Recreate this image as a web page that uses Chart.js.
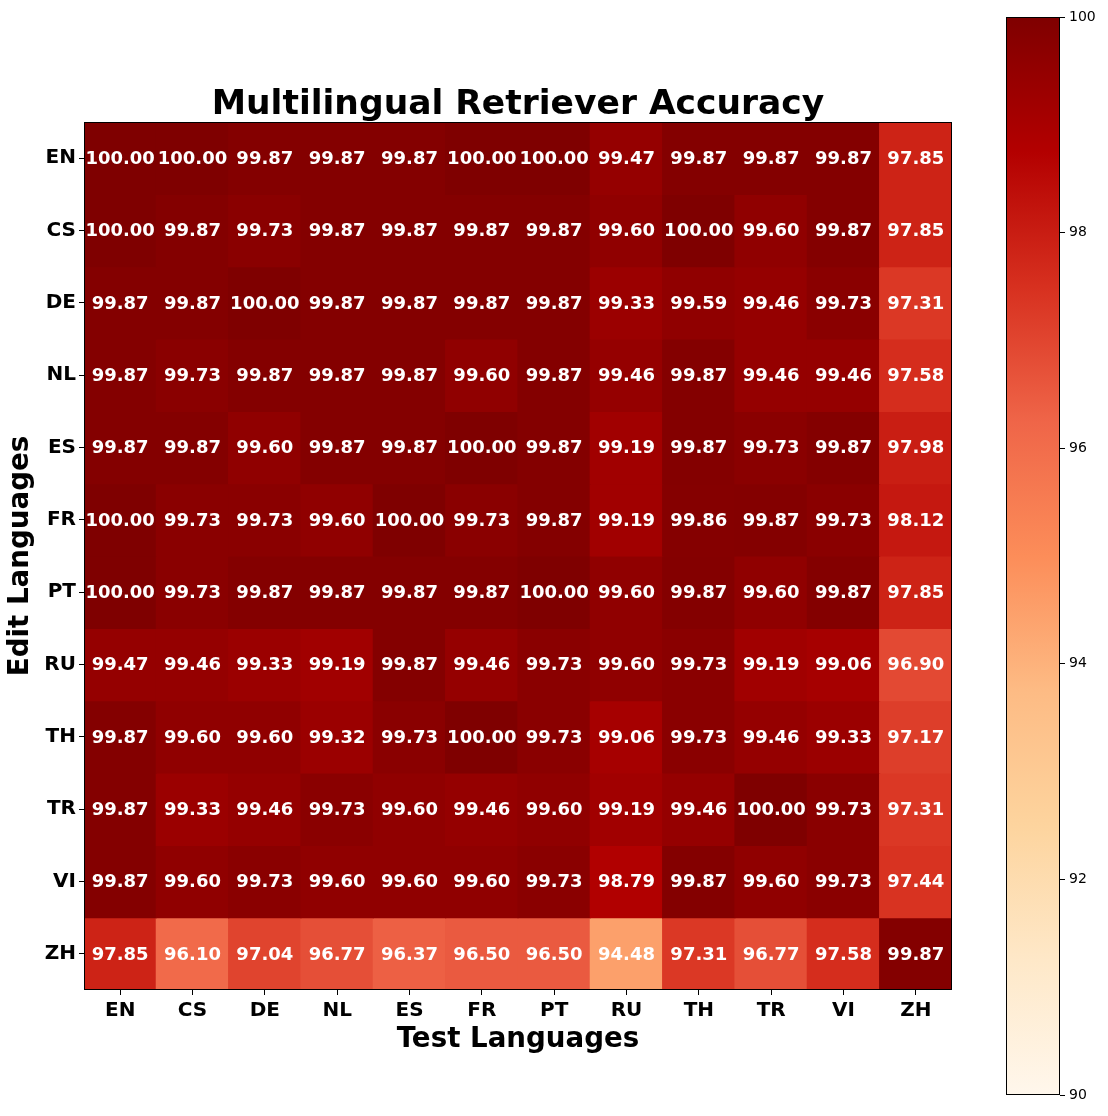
<!DOCTYPE html>
<html>
<head>
<meta charset="utf-8">
<title>Multilingual Retriever Accuracy</title>
<script src="https://cdn.jsdelivr.net/npm/chart.js@4.4.1/dist/chart.umd.min.js"></script>
<style>
  html, body { margin: 0; padding: 0; background: #fff; }
  #wrap { position: relative; width: 1108px; height: 1116px; }
  #heat { position: absolute; left: 0; top: 0; }
  #cbar { position: absolute; left: 1000px; top: 0; }
</style>
</head>
<body>
<div id="wrap">
  <canvas id="heat" width="1036" height="1116"></canvas>
  <canvas id="cbar" width="108" height="1116"></canvas>
</div>
<script>
// --- data ---
const testLangs = ['EN', 'CS', 'DE', 'NL', 'ES', 'FR', 'PT', 'RU', 'TH', 'TR', 'VI', 'ZH'];
const editLangs = ['EN', 'CS', 'DE', 'NL', 'ES', 'FR', 'PT', 'RU', 'TH', 'TR', 'VI', 'ZH'];

const accEN = [100.00, 100.00, 99.87, 99.87, 99.87, 100.00, 100.00, 99.47, 99.87, 99.87, 99.87, 97.85];
const accCS = [100.00, 99.87, 99.73, 99.87, 99.87, 99.87, 99.87, 99.60, 100.00, 99.60, 99.87, 97.85];
const accDE = [99.87, 99.87, 100.00, 99.87, 99.87, 99.87, 99.87, 99.33, 99.59, 99.46, 99.73, 97.31];
const accNL = [99.87, 99.73, 99.87, 99.87, 99.87, 99.60, 99.87, 99.46, 99.87, 99.46, 99.46, 97.58];
const accES = [99.87, 99.87, 99.60, 99.87, 99.87, 100.00, 99.87, 99.19, 99.87, 99.73, 99.87, 97.98];
const accFR = [100.00, 99.73, 99.73, 99.60, 100.00, 99.73, 99.87, 99.19, 99.86, 99.87, 99.73, 98.12];
const accPT = [100.00, 99.73, 99.87, 99.87, 99.87, 99.87, 100.00, 99.60, 99.87, 99.60, 99.87, 97.85];
const accRU = [99.47, 99.46, 99.33, 99.19, 99.87, 99.46, 99.73, 99.60, 99.73, 99.19, 99.06, 96.90];
const accTH = [99.87, 99.60, 99.60, 99.32, 99.73, 100.00, 99.73, 99.06, 99.73, 99.46, 99.33, 97.17];
const accTR = [99.87, 99.33, 99.46, 99.73, 99.60, 99.46, 99.60, 99.19, 99.46, 100.00, 99.73, 97.31];
const accVI = [99.87, 99.60, 99.73, 99.60, 99.60, 99.60, 99.73, 98.79, 99.87, 99.60, 99.73, 97.44];
const accZH = [97.85, 96.10, 97.04, 96.77, 96.37, 96.50, 96.50, 94.48, 97.31, 96.77, 97.58, 99.87];

const accRows = [accEN, accCS, accDE, accNL, accES, accFR, accPT, accRU, accTH, accTR, accVI, accZH];

const colorMin = 90;
const colorMax = 100;
const colorbarTicks = [90, 92, 94, 96, 98, 100];

// OrRd colormap stops
const ORRD = ['#fff7ec', '#fee8c8', '#fdd49e', '#fdbb84', '#fc8d59', '#ef6548', '#d7301f', '#b30000', '#7f0000'];

function hexToRgb(h) {
  return [parseInt(h.slice(1, 3), 16), parseInt(h.slice(3, 5), 16), parseInt(h.slice(5, 7), 16)];
}
const ORRD_RGB = ORRD.map(hexToRgb);

function cmap(v) {
  let t = (v - colorMin) / (colorMax - colorMin);
  t = Math.max(0, Math.min(1, t));
  const pos = t * (ORRD_RGB.length - 1);
  const i = Math.min(Math.floor(pos), ORRD_RGB.length - 2);
  const f = pos - i;
  const a = ORRD_RGB[i], b = ORRD_RGB[i + 1];
  const c = a.map((x, k) => Math.round(x + (b[k] - x) * f));
  return `rgb(${c[0]},${c[1]},${c[2]})`;
}

const FONT = 'DejaVu Sans';

// frame around chart area (matplotlib spines)
const framePlugin = {
  id: 'frame',
  afterDraw(chart) {
    const a = chart.chartArea, ctx = chart.ctx;
    ctx.save();
    ctx.strokeStyle = '#000';
    ctx.lineWidth = 1;
    ctx.strokeRect(Math.round(a.left) + 0.5, Math.round(a.top) + 0.5,
                   Math.round(a.right - a.left) - 1, Math.round(a.bottom - a.top) - 1);
    ctx.restore();
  }
};

// cell value labels
const cellLabels = {
  id: 'cellLabels',
  afterDatasetsDraw(chart) {
    const ctx = chart.ctx;
    ctx.save();
    ctx.font = `bold 18px "${FONT}"`;
    ctx.fillStyle = '#fff';
    ctx.textAlign = 'center';
    ctx.textBaseline = 'middle';
    chart.data.datasets.forEach((ds, di) => {
      const meta = chart.getDatasetMeta(di);
      meta.data.forEach((el, ci) => {
        const y = (el.y + el.base) / 2;
        ctx.fillText(ds.values[ci].toFixed(2), el.x, y + 1);
      });
    });
    ctx.restore();
  }
};

// --- heatmap ---
const heatDatasets = accRows.map((row, r) => ({
  label: editLangs[r],
  data: row.map(() => [r, r + 1]),
  values: row,
  backgroundColor: row.map(v => cmap(v)),
  borderWidth: 0,
  inflateAmount: 0.6,
  barPercentage: 1.0,
  categoryPercentage: 1.0,
  grouped: false
}));

new Chart(document.getElementById('heat'), {
  type: 'bar',
  data: { labels: testLangs, datasets: heatDatasets },
  options: {
    responsive: false,
    animation: false,
    devicePixelRatio: 1,
    layout: { padding: { left: 0, right: 0, top: 0, bottom: 60 } },
    plugins: {
      legend: { display: false },
      tooltip: { enabled: false },
      title: {
        display: true,
        text: 'Multilingual Retriever Accuracy',
        color: '#000',
        font: { family: FONT, size: 34.5, weight: 'bold', lineHeight: 1.0 },
        padding: { top: 87.5, bottom: 0 }
      }
    },
    scales: {
      x: {
        type: 'category',
        offset: true,
        grid: { display: true, offset: false, drawOnChartArea: false, tickLength: 5, color: '#000' },
        border: { display: false },
        ticks: { color: '#000', font: { family: FONT, size: 20, weight: 'bold' }, padding: 4, maxRotation: 0 },
        title: {
          display: true, text: 'Test Languages', color: '#000',
          font: { family: FONT, size: 27.7, weight: 'bold' }, padding: { top: 0, bottom: 0 }
        },
        afterFit(scale) { scale.height = 66; }
      },
      y: {
        type: 'linear',
        min: 0,
        max: 12,
        reverse: true,
        grid: { display: true, drawOnChartArea: false, tickLength: 5, color: '#000' },
        border: { display: false },
        afterBuildTicks(scale) {
          scale.ticks = editLangs.map((_, i) => ({ value: i + 0.5 }));
        },
        ticks: {
          autoSkip: false,
          color: '#000',
          font: { family: FONT, size: 20, weight: 'bold' },
          padding: 3,
          callback: v => editLangs[Math.floor(v)]
        },
        title: {
          display: true, text: 'Edit Languages', color: '#000',
          font: { family: FONT, size: 27.7, weight: 'bold' }, padding: { bottom: 0 }
        },
        afterFit(scale) { scale.width = 84; }
      },
      // empty right axis so the title centres over the plot
      yRight: {
        type: 'linear',
        position: 'right',
        min: 0,
        max: 12,
        grid: { display: false },
        border: { display: false },
        ticks: { display: false },
        afterFit(scale) { scale.width = 84; }
      }
    }
  },
  plugins: [cellLabels, framePlugin]
});

// --- colorbar ---
function cbarGradient(context) {
  const chart = context.chart;
  const a = chart.chartArea;
  if (!a) return ORRD[ORRD.length - 1];
  const g = chart.ctx.createLinearGradient(0, a.bottom, 0, a.top);
  ORRD.forEach((c, i) => g.addColorStop(i / (ORRD.length - 1), c));
  return g;
}

new Chart(document.getElementById('cbar'), {
  type: 'bar',
  data: {
    labels: ['cb'],
    datasets: [{
      data: [[colorMin, colorMax]],
      backgroundColor: cbarGradient,
      borderWidth: 0,
      barPercentage: 1.0,
      categoryPercentage: 1.0
    }]
  },
  options: {
    responsive: false,
    animation: false,
    devicePixelRatio: 1,
    layout: { padding: { left: 6, right: 0, top: 17, bottom: 21 } },
    plugins: { legend: { display: false }, tooltip: { enabled: false } },
    scales: {
      x: { display: false },
      y: {
        position: 'right',
        min: colorMin,
        max: colorMax,
        grid: { display: true, drawOnChartArea: false, tickLength: 5, color: '#000' },
        border: { display: false },
        afterBuildTicks(scale) {
          scale.ticks = colorbarTicks.map(v => ({ value: v }));
        },
        ticks: { color: '#000', font: { family: FONT, size: 14 }, padding: 4 },
        afterFit(scale) { scale.width = 48; }
      }
    }
  },
  plugins: [framePlugin]
});
</script>
</body>
</html>
